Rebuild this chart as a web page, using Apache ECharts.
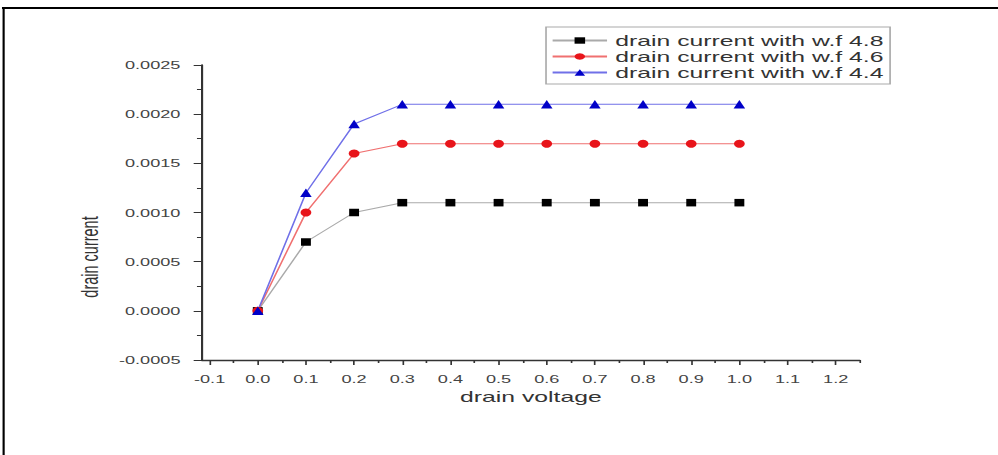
<!DOCTYPE html>
<html>
<head>
<meta charset="utf-8">
<script src="https://cdn.jsdelivr.net/npm/echarts@6/dist/echarts.min.js"></script>
<style>
  html, body { margin: 0; padding: 0; background: #fff; }
  #wrap { width: 998px; height: 455px; overflow: hidden; position: relative; background: #fff; }
  #chart { width: 605px; height: 455px; transform: scaleX(1.6496); transform-origin: 0 0; }
</style>
</head>
<body>
<div id="wrap"><div id="chart"></div></div>
<script>
// ---- data ----
const drainVoltage = [0.0, 0.1, 0.2, 0.3, 0.4, 0.5, 0.6, 0.7, 0.8, 0.9, 1.0];
const currentWf48 = [0, 0.0007, 0.0010, 0.0011, 0.0011, 0.0011, 0.0011, 0.0011, 0.0011, 0.0011, 0.0011];
const currentWf46 = [0, 0.0010, 0.0016, 0.0017, 0.0017, 0.0017, 0.0017, 0.0017, 0.0017, 0.0017, 0.0017];
const currentWf44 = [0, 0.0012, 0.0019, 0.0021, 0.0021, 0.0021, 0.0021, 0.0021, 0.0021, 0.0021, 0.0021];
const xTickValues = [-0.1, 0.0, 0.1, 0.2, 0.3, 0.4, 0.5, 0.6, 0.7, 0.8, 0.9, 1.0, 1.1, 1.2];
const xMinorTickValues = [-0.05, 0.05, 0.15, 0.25, 0.35, 0.45, 0.55, 0.65, 0.75, 0.85, 0.95, 1.05, 1.15, 1.25];
const seriesNames = ['drain current with w.f 4.8', 'drain current with w.f 4.6', 'drain current with w.f 4.4'];

const FONT = "'Liberation Sans', Arial, sans-serif";
const chart = echarts.init(document.getElementById('chart'), null, { renderer: 'svg' });

function pairs(ys) { return drainVoltage.map((x, i) => [x, ys[i]]); }

const axisCommon = {
  min: -0.116, max: 1.25, type: 'value', splitLine: { show: false }
};

chart.setOption({
  animation: false,
  backgroundColor: '#fff',
  grid: { left: 122.4, right: 83.8, top: 65, bottom: 95, containLabel: false },
  legend: {
    orient: 'vertical', left: 331, top: 27,
    padding: [6, 4, 4, 3], itemGap: 1,
    itemWidth: 33, itemHeight: 8,
    borderColor: '#aaa', borderWidth: 1,
    textStyle: { fontFamily: FONT, fontSize: 15, color: '#333', lineHeight: 15 },
    data: seriesNames
  },
  xAxis: [
    Object.assign({}, axisCommon, {
      name: 'drain voltage', nameLocation: 'middle', nameGap: 29,
      nameTextStyle: { fontFamily: FONT, fontSize: 15, color: '#333' },
      axisLine: { show: true, onZero: false, lineStyle: { color: '#333', width: 1.3 } },
      axisTick: { show: true, inside: false, length: 5, customValues: xTickValues, lineStyle: { color: '#333' } },
      axisLabel: { customValues: xTickValues, margin: 13, fontFamily: FONT, fontSize: 11, color: '#444',
        formatter: v => v.toFixed(1) }
    }),
    Object.assign({}, axisCommon, {
      position: 'bottom',
      axisLine: { show: false, onZero: false },
      axisTick: { show: true, inside: false, length: 3, customValues: xMinorTickValues, lineStyle: { color: '#333' } },
      axisLabel: { show: false }
    })
  ],
  yAxis: {
    type: 'value', min: -0.0005, max: 0.0025, interval: 0.0005,
    splitLine: { show: false },
    axisLine: { show: true, onZero: false, lineStyle: { color: '#333', width: 1.3 } },
    axisTick: { show: true, inside: false, length: 5, lineStyle: { color: '#333' } },
    minorTick: { show: true, splitNumber: 2, length: 3, lineStyle: { color: '#333' } },
    axisLabel: { margin: 13, fontFamily: FONT, fontSize: 11, color: '#444',
      formatter: v => v.toFixed(4) }
  },
  graphic: [
    { type: 'text', x: 54.5, y: 257, rotation: Math.PI / 2,
      style: { text: 'drain current', fontFamily: FONT, fontSize: 14.5, fill: '#333', align: 'center', verticalAlign: 'middle' } },
    { type: 'line', shape: { x1: 1.2, y1: 8, x2: 605, y2: 8 }, style: { stroke: '#000', lineWidth: 2.2 } },
    { type: 'line', shape: { x1: 2.2, y1: 7, x2: 2.2, y2: 455 }, style: { stroke: '#000', lineWidth: 1.3 } }
  ],
  series: [
    { name: seriesNames[0], type: 'line', data: pairs(currentWf48), xAxisIndex: 0,
      symbol: 'rect', symbolSize: [6, 7.5],
      itemStyle: { color: '#000' }, lineStyle: { color: '#aaa', width: 1 } },
    { name: seriesNames[1], type: 'line', data: pairs(currentWf46), xAxisIndex: 0,
      symbol: 'circle', symbolSize: [6.5, 8],
      itemStyle: { color: '#e8141a' }, lineStyle: { color: '#f07070', width: 1 } },
    { name: seriesNames[2], type: 'line', data: pairs(currentWf44), xAxisIndex: 0,
      symbol: 'triangle', symbolSize: [7, 8.5],
      itemStyle: { color: '#0000c8' }, lineStyle: { color: '#7070e8', width: 1 } }
  ]
});
</script>
</body>
</html>
